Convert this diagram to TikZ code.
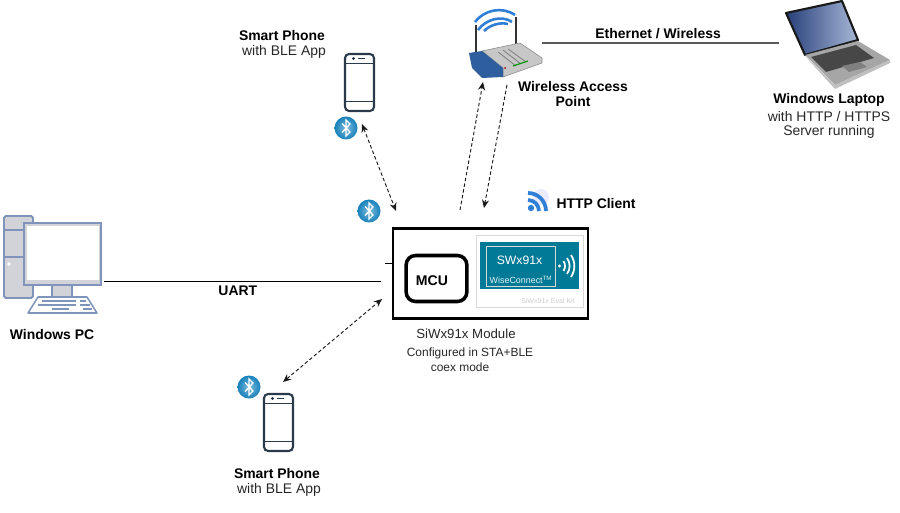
\documentclass[tikz,border=0pt]{standalone}
\usepackage{fontspec}
\usetikzlibrary{arrows.meta}
\setmainfont{Liberation Sans}
\definecolor{tealbox}{HTML}{007A96}
\definecolor{pcline}{HTML}{7F93BB}
\definecolor{pcfill}{HTML}{D2D3D8}
\definecolor{phoneline}{HTML}{2B3A4A}
\definecolor{btblue}{HTML}{1787C4}
\definecolor{wifiblue}{HTML}{2F7FD6}
\definecolor{routerblue}{HTML}{2F5E9E}
\definecolor{screendark}{HTML}{27407A}
\definecolor{screenlight}{HTML}{A9B8D8}
\tikzset{
  lab/.style={inner sep=0pt,font=\fontsize{11.9}{13}\selectfont,text=black!85},
  blab/.style={lab,font=\fontsize{11.9}{13}\selectfont\bfseries,text=black},
  dotarrow/.style={densely dashed,line width=.8pt,>={Stealth[length=7pt,width=6pt]},black!90},
  pics/phone/.style={code={
    \draw[phoneline,line width=1.8pt,rounded corners=3.5pt] (-14.5,-28.5) rectangle (14.5,28.5);
    \draw[phoneline,line width=1.5pt] (-14.5,-19) -- (14.5,-19) (-14.5,19) -- (14.5,19);
    \draw[phoneline,line width=1.4pt] (-2,-24) -- (5,-24);
    \fill[phoneline] (-6,-24) circle (1.6);
  }},
  pics/bticon/.style={code={
    \shade[inner color=btblue!55!white,outer color=btblue!95!black] (0,0) circle (11.5);
    \draw[white,line width=1.1pt] (-4,-4.5) -- (4,4) -- (0,8) -- (0,-8) -- (4,-4) -- (-4,4.5);
  }}
}
\begin{document}
\begin{tikzpicture}[x=.03cm,y=-.03cm]
\useasboundingbox (0,0) rectangle (900,513);
\pic at (359.5,82.5) {phone};\pic at (278.5,422.5) {phone};
\pic at (346,128) {bticon};\pic at (369,211) {bticon};\pic at (249,387) {bticon};
\node[blab] (smarta) at (282,36) {Smart Phone};
\node[lab] (blea) at (284,52) {with BLE App};
\node[blab] (smartb) at (277,474) {Smart Phone};
\node[lab] (bleb) at (279,490) {with BLE App};
\draw[pcline,fill=pcfill,line width=1.6pt,rounded corners=1.5pt] (4,216) rectangle (33,298);
\draw[pcline,line width=1.3pt] (4,230) -- (24,230) (4,257) -- (24,257);
\fill[white] (9,264) circle (1.8);
\draw[pcline,fill=pcfill,line width=1.3pt] (52,285) rectangle (72,297);
\draw[pcline,fill=white,line width=1.3pt,line join=round] (38,297) -- (87,297) -- (97,313) -- (28,313) -- cycle;
\draw[pcline,line width=1pt] (42,301) -- (76,301) (80,301) -- (86,301) (38,305) -- (76,305) (80,305) -- (90,305) (52,309) -- (69,309) (83,309) -- (92,309);
\draw[pcline,fill=pcfill,line width=1.6pt] (24,223) rectangle (101,285);
\fill[white] (26.5,226) rectangle (98.5,280);
\node[blab] (pc) at (52,335) {Windows PC};
\coordinate (pcport) at (104,281);\coordinate (modport) at (381,281);
\draw[line width=.8pt] (pcport) -- node[blab,pos=.483,yshift=-8pt] (uart) {UART} (modport);
\node[draw,line width=2.4pt,minimum width=5.85cm,minimum height=2.68cm,inner sep=0pt] (module) at (490.5,273.5) {};
\coordinate (stub) at (385,263);\draw[line width=.7pt] (stub) -- (module.west |- stub);
\node[draw,line width=3pt,rounded corners=8pt,minimum width=1.82cm,minimum height=1.38cm,inner sep=0pt] (mcu) at (436.5,278.5) {};
\node[inner sep=0pt,font=\fontsize{12}{13}\selectfont\bfseries] (mcutext) at (432,281) {MCU};
\node[draw=black!15,line width=.8pt,minimum width=3.21cm,minimum height=2.16cm,inner sep=0pt] (panel) at (529.5,271) {};
\node[fill=tealbox,minimum width=2.97cm,minimum height=1.41cm,inner sep=0pt] (teal) at (529.5,265.5) {};
\draw[black!15,line width=.8pt] (486,246) rectangle (555,286);
\node[lab,text=white,font=\fontsize{10.4}{12}\selectfont] (swx) at (519.5,260) {SWx91x};
\node[lab,text=white!90!tealbox,font=\fontsize{7.6}{10}\selectfont] (wise) at (521,280) {WiseConnect\textsuperscript{TM}};
\fill[white] (559.5,266) circle (1.6);
\draw[white,line width=1.5pt] (563.5,261) .. controls (565.5,264) and (565.5,268) .. (563.5,271);
\draw[white,line width=1.5pt] (567,258) .. controls (570.5,263) and (570.5,269) .. (567,274);
\draw[white,line width=1.5pt] (571,255) .. controls (575.5,262) and (575.5,270) .. (571,277);
\node[lab,text=black!20,font=\fontsize{6}{7}\selectfont] (evalkit) at (548,301) {SiWx91x Eval Kit};
\node[lab,font=\fontsize{11.3}{13}\selectfont] (modname) at (466,334) {SiWx91x Module};
\node[lab,font=\fontsize{10.2}{11}\selectfont] (conf) at (470,353) {Configured in STA+BLE};
\node[lab,font=\fontsize{10.2}{11}\selectfont] (coex) at (460,367) {coex mode};
\fill[blue!8] (541,197) circle (8);
\fill[wifiblue] (531,208) circle (3.2);
\draw[wifiblue,line width=3.2pt] (528,200) .. controls (534,200) and (539,205) .. (539,211);
\draw[wifiblue,line width=3.2pt] (528,193) .. controls (538,193) and (546,201) .. (546,211);
\node[blab] (http) at (596,204) {HTTP Client};
\draw[black!80,line width=1.7pt] (476,25) -- (476,52);\draw[black!80,line width=1.7pt] (516,17) -- (516,48);
\draw[wifiblue,line width=2.2pt] (475,22) .. controls (484,10) and (502,6) .. (515,15);
\draw[wifiblue,line width=2.2pt] (478,30) .. controls (486,19) and (502,15) .. (512,22);
\draw[wifiblue,line width=2.2pt] (484,31) .. controls (490,25) and (500,22) .. (508,24);
\fill[black!22,draw=black!45,line width=.5pt] (482,51) -- (520,43) -- (542,58) -- (542,63) -- (503,77) -- (503,68) -- cycle;
\draw[black!50,line width=.7pt] (498,52) -- (516,66) (503,50) -- (521,64) (508,49) -- (526,62);
\fill[routerblue] (469,53) -- (482,51) -- (503,68) -- (503,77) -- (482,78) -- (472,68) -- cycle;
\draw[green!60!black,line width=1pt] (513,66) -- (528,61);\fill[red!70!black] (505,68) circle (1);
\node[blab,align=center] (ap) at (573,94) {Wireless Access\\Point};
\coordinate (apleft) at (542,43);\coordinate (apright) at (779,43);
\draw[black!65,line width=1.1pt] (apleft) -- node[blab,yshift=8pt,pos=.49] (eth) {Ethernet / Wireless} (apright);
\shade[left color=screendark,right color=screenlight] (786,13) -- (842,1) -- (858,40) -- (805,55) -- cycle;
\draw[black!90,line width=1.8pt,line join=round] (786,13) -- (842,1) -- (858,40) -- (805,55) -- cycle;
\fill[black!35] (805,55) -- (858,41) -- (890,60) -- (835,85) -- cycle;
\fill[black!72] (811,57) -- (856,45) -- (874,58) -- (826,72) -- cycle;
\fill[black!50] (842,66) -- (860,62) -- (867,67) -- (849,72) -- cycle;
\fill[black!25] (835,85) -- (890,60) -- (890,63) -- (835,89) -- (805,56) -- cycle;
\node[blab] (laptop) at (829,100) {Windows Laptop};
\node[lab] (server) at (829,117) {with HTTP / HTTPS};
\node[lab] (running) at (829,132) {Server running};
\coordinate (pa) at (362,124);\coordinate (ma) at (396,211);
\draw[<->,dotarrow] (pa) -- (ma);
\coordinate (pb) at (283,382);\coordinate (mb) at (382,299);
\draw[<->,dotarrow] (pb) -- (mb);
\coordinate (upa) at (460,210);\coordinate (upb) at (483,82);
\draw[->,dotarrow] (upa) -- (upb);
\coordinate (dna) at (507,85);\coordinate (dnb) at (484,208);
\draw[->,dotarrow] (dna) -- (dnb);
\end{tikzpicture}
\end{document}
